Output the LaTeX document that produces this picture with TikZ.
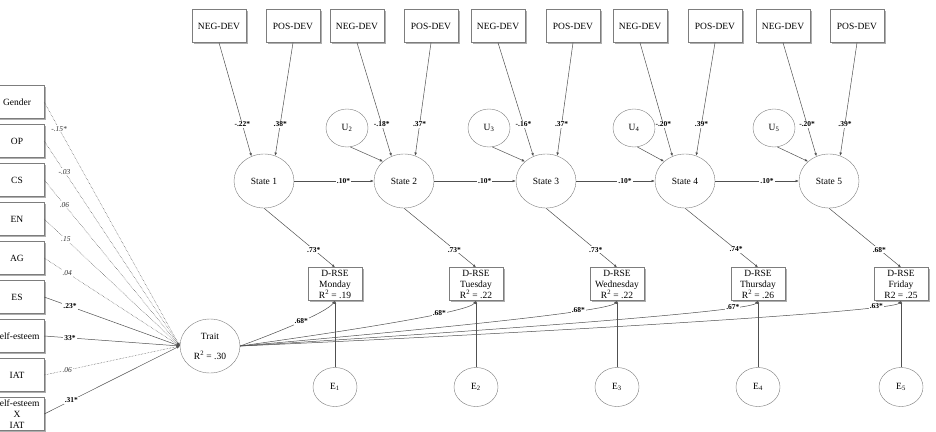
\documentclass[tikz,border=0pt]{standalone}
\usepackage{fontspec}
\setmainfont{Liberation Serif}
\usepackage{xcolor}
\usepackage{tikz}
\usetikzlibrary{arrows.meta,shapes.geometric,shadows}
\definecolor{SEMLine}{RGB}{80,80,80}
\definecolor{SEMBorder}{RGB}{125,125,125}
\definecolor{SEMShadow}{RGB}{175,175,175}
\newcommand{\semfont}{\fontsize{9.5}{11}\selectfont}
\newcommand{\coeffont}{\fontsize{7.5}{9}\selectfont}
\tikzset{
  obsbox/.style={draw=SEMBorder,fill=white,minimum width=54pt,minimum height=33pt,inner sep=0.5pt,align=center,font=\semfont,
    drop shadow={shadow xshift=1.5pt,shadow yshift=-1.5pt,fill=SEMShadow,opacity=1}},
  latent/.style={ellipse,draw=SEMBorder,fill=white,minimum width=60pt,minimum height=54pt,inner sep=0pt,font=\semfont},
  resid/.style={ellipse,draw=SEMBorder,fill=white,minimum width=44pt,minimum height=39pt,inner sep=0pt,font=\semfont},
  parr/.style={-{Latex[length=3.2pt,width=2.6pt]},SEMLine,line width=0.5pt},
  narr/.style={parr,densely dotted},
  coef/.style={fill=white,inner sep=1pt,text=black,font=\coeffont\bfseries},
  ncoef/.style={fill=white,inner sep=1pt,text=black!80,font=\coeffont\itshape},
}

\begin{document}
\begin{tikzpicture}[x=1pt,y=1pt]
  \useasboundingbox (0,0) rectangle (936,-431);
  % predictors of the trait
  \foreach \nm/\txt/\yy in {gen/Gender/102, op/OP/141, cs/CS/180, en/EN/219, ag/AG/258,
      es/ES/297, se/Self-esteem/336, iat/IAT/375, sxi/{Self-esteem\\X\\IAT}/414}
    \node[obsbox] (\nm) at (17,-\yy) {\txt};
  \node[latent,align=center] (trait) at (210,-346) {Trait\\[9pt]R\textsuperscript{2} = .30};
  % daily states
  \foreach \i/\sx in {1/264, 2/404, 3/546, 4/685, 5/829}
    \node[latent] (state\i) at (\sx,-181) {State \i};
  \foreach \i/\nx/\px in {1/219/293, 2/357/431, 3/498/573, 4/640/715, 5/783/857}{
    \node[obsbox] (neg\i) at (\nx,-26) {NEG-DEV};
    \node[obsbox] (pos\i) at (\px,-26) {POS-DEV};
  }
  \foreach \i/\ux in {2/347, 3/489, 4/634, 5/774}
    \node[resid,minimum width=42pt,minimum height=38pt] (u\i) at (\ux,-128) {U\textsubscript{\i}};
  \foreach \i/\dx/\dname/\rsq in {1/335/Monday/{R\textsuperscript{2} = .19}, 2/476/Tuesday/{R\textsuperscript{2} = .22},
      3/617/Wednesday/{R\textsuperscript{2} = .22}, 4/758/Thursday/{R\textsuperscript{2} = .26}, 5/901/Friday/{R2 = .25}}{
    \node[obsbox] (drse\i) at (\dx,-284) {D-RSE\\\dname\\\rsq};
    \node[resid] (e\i) at (\dx,-387) {E\textsubscript{\i}};
  }

  % paths into the trait
  \foreach \nm/\cf/\ps in {gen/-.15*/0.11, op/-.03/0.15, cs/.06/0.15, en/.15/0.16, ag/.04/0.17, iat/.06/0.17}
    \draw[narr] (\nm.east) -- (trait.west) node[ncoef,pos=\ps]{\cf};
  \foreach \nm/\cf/\ps in {es/.23*/0.19, se/33*/0.19, sxi/.31*/0.2}
    \draw[parr] (\nm.east) -- (trait.west) node[coef,pos=\ps]{\cf};

  % deviations and disturbances into the states
  \foreach \i/\cn/\cp in {1/-.22*/.38*, 2/-.18*/.37*, 3/-.16*/.37*, 4/-.20*/.39*, 5/-.20*/.39*}{
    \draw[parr] (neg\i.south) -- (state\i.117) node[coef,pos=0.72]{\cn};
    \draw[parr] (pos\i.south) -- (state\i.66) node[coef,pos=0.72]{\cp};
  }
  \foreach \i in {2,...,5}
    \draw[parr] (u\i.-80) -- (state\i.137);
  \foreach \i/\j in {1/2, 2/3, 3/4, 4/5}
    \draw[parr] (state\i) -- (state\j) node[coef,pos=0.62]{.10*};

  % indicators
  \foreach \i/\cf in {1/.73*, 2/.73*, 3/.73*, 4/.74*, 5/.68*}
    \draw[parr] (state\i.south) -- (drse\i.north) node[coef,pos=0.7]{\cf};
  \foreach \i in {1,...,5}
    \draw[parr] (e\i) -- (drse\i);
  \draw[parr] (trait.east) to[out=20,in=-125,in distance=14pt] node[coef,pos=0.52]{.68*} (drse1.south);
  \draw[parr] (trait.east) to[out=8,in=-122,in distance=14pt] node[coef,pos=0.7]{.68*} (drse2.south);
  \draw[parr] (trait.east) to[out=5,in=-125,in distance=14pt] node[coef,pos=0.76]{.68*} (drse3.south);
  \draw[parr] (trait.east) to[out=3.5,in=-125,in distance=14pt] node[coef,pos=0.84]{.67*} (drse4.south);
  \draw[parr] (trait.east) to[out=2.5,in=-125,in distance=14pt] node[coef,pos=0.86]{.63*} (drse5.south);
\end{tikzpicture}
\end{document}
